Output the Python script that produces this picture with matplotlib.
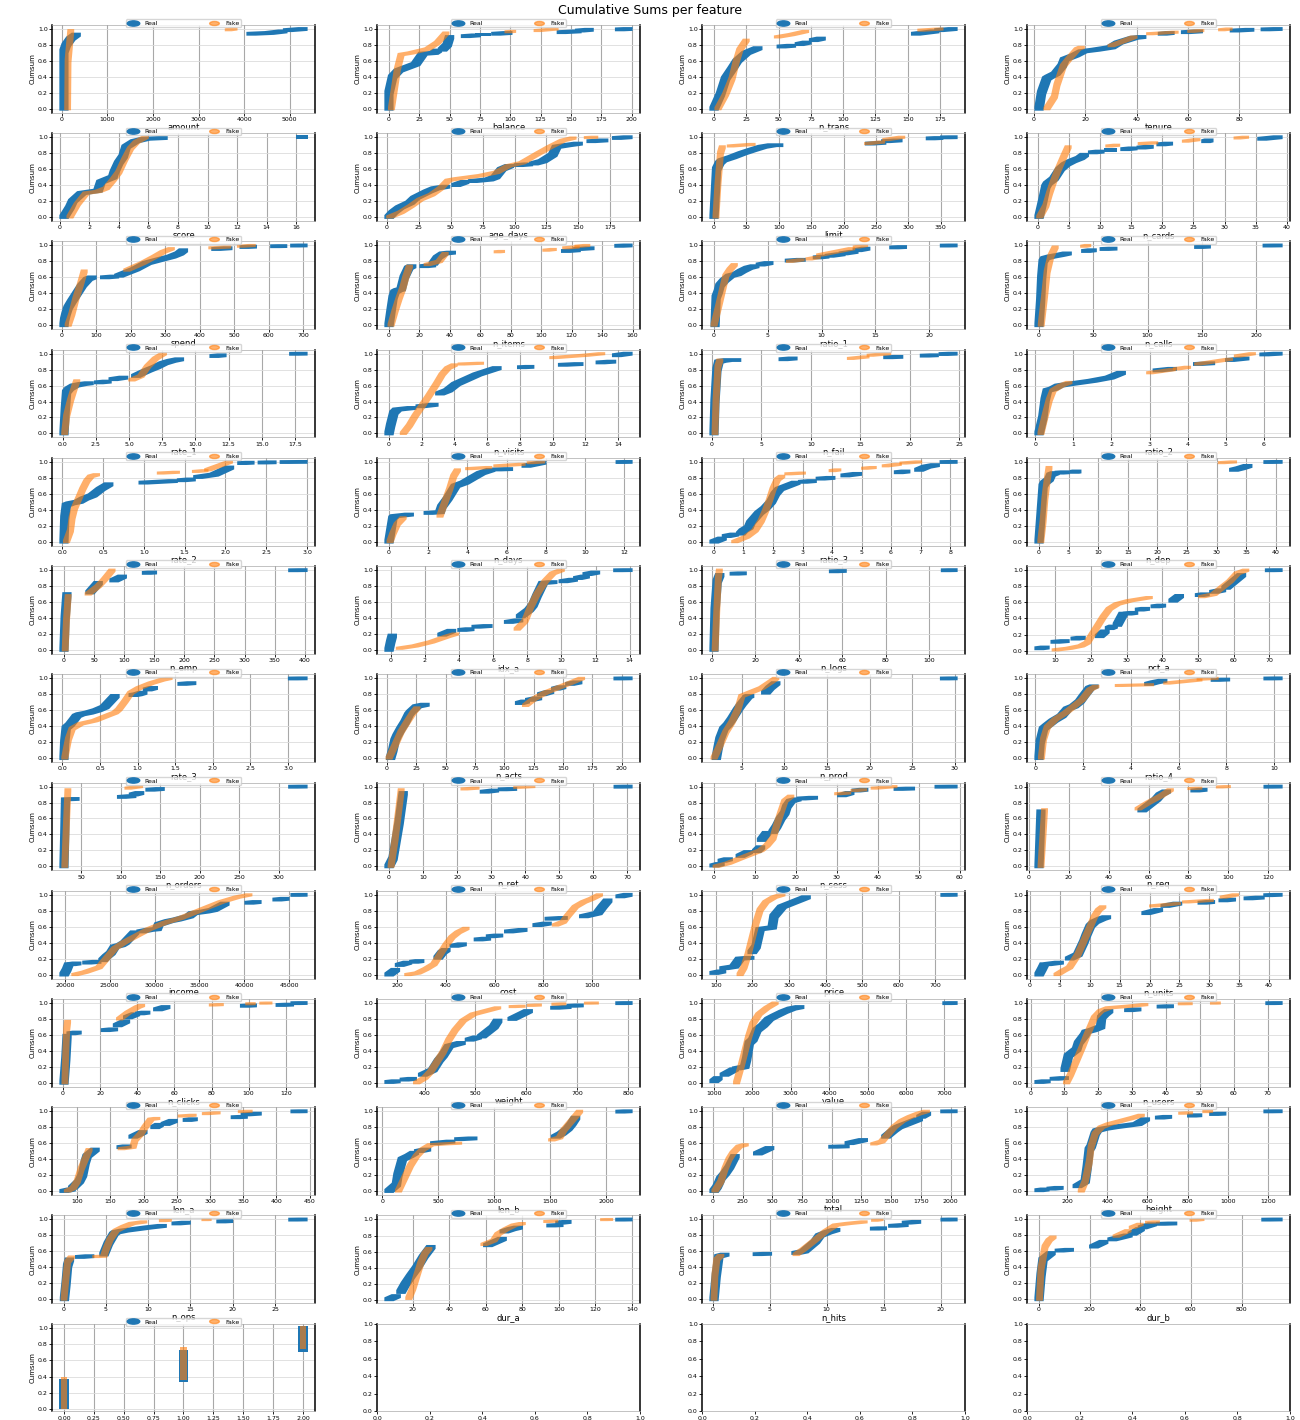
import numpy as np
import matplotlib
matplotlib.use('Agg')
import matplotlib.pyplot as plt
from matplotlib.patches import Polygon
from matplotlib.lines import Line2D
from matplotlib.path import Path
from matplotlib.transforms import Affine2D
from matplotlib.ticker import MaxNLocator

# feature names (one per panel, row by row)
features = ['amount', 'balance', 'n_trans', 'tenure', 'score', 'age_days', 'limit',
            'n_cards', 'spend', 'n_items', 'ratio_1', 'n_calls', 'rate_1', 'n_visits',
            'n_fail', 'ratio_2', 'rate_2', 'n_days', 'ratio_3', 'n_dep', 'n_emp',
            'idx_a', 'n_logs', 'pct_a', 'rate_3', 'n_acts', 'n_prod', 'ratio_4',
            'n_orders', 'n_ret', 'n_sess', 'n_req', 'income', 'cost', 'price',
            'n_units', 'n_clicks', 'weight', 'value', 'n_users', 'len_a', 'len_b',
            'total', 'height', 'n_ops', 'dur_a', 'n_hits', 'dur_b', 'level']

# cumulative curves: runs of (value, cumulative share)
real = [
    [[(50, 0), (50, 0.72), (100, 0.8), (200, 0.88), (320, 0.93)], [(4150, 0.94), (4550, 0.95), (4850, 0.97)], [(4950, 0.985), (5290, 1.0)]],
    [[(0, 0), (0, 0.2), (3, 0.4), (8, 0.48), (22, 0.56), (28, 0.69), (37, 0.7), (40, 0.73)], [(44, 0.74), (48, 0.8), (50, 0.9)], [(63, 0.91), (72, 0.92)], [(75, 0.93), (80, 0.93)], [(88, 0.94), (98, 0.95)], [(142, 0.96), (155, 0.97)], [(157, 0.98), (165, 0.99)], [(190, 0.995), (197, 1.0)]],
    [[(0, 0), (5, 0.18), (9, 0.38), (14, 0.5), (18, 0.6), (25, 0.7), (34, 0.76)], [(52, 0.78), (60, 0.79)], [(66, 0.81), (72, 0.83)], [(77, 0.86), (83, 0.88)], [(156, 0.94), (171, 0.97)], [(174, 0.985), (185, 1.0)]],
    [[(2, 0), (3, 0.2), (5, 0.38), (6, 0.4), (8.5, 0.44), (11, 0.54), (12, 0.62), (16, 0.67), (19, 0.72), (24, 0.74), (30, 0.77), (33, 0.83), (39, 0.89), (42, 0.9)], [(50, 0.94), (53, 0.95)], [(59, 0.96), (64, 0.97)], [(78, 0.98), (84, 0.99)], [(90, 0.995), (95, 1.0)]],
    [[(0.3, 0), (0.7, 0.12), (0.9, 0.2), (1.5, 0.3), (2.6, 0.33), (2.8, 0.44), (3.6, 0.5), (3.7, 0.56), (4.0, 0.68), (4.3, 0.76), (4.5, 0.88), (5.1, 0.95), (5.8, 0.98), (7.0, 0.99)], [(16.3, 1.0), (16.45, 1.0)]],
    [[(1.5, 0), (5, 0.06), (10, 0.12), (18, 0.18), (22, 0.24), (32, 0.32), (38, 0.36), (46, 0.38)], [(54, 0.4), (61, 0.44)], [(67, 0.45), (80, 0.47), (85, 0.5), (90, 0.6), (96, 0.64)], [(103, 0.65), (111, 0.66)], [(115, 0.67), (122, 0.7), (126, 0.74), (130, 0.78), (133, 0.88), (141, 0.9), (150, 0.92)], [(160, 0.95), (170, 0.96)], [(180, 0.99), (189, 1.0)]],
    [[(0, 0), (2, 0.3), (4, 0.6), (9, 0.68), (13, 0.71), (28, 0.75), (44, 0.8), (59, 0.84), (75, 0.88), (90, 0.9), (100, 0.9)], [(240, 0.92), (259, 0.93)], [(265, 0.95), (284, 0.96)], [(334, 0.985), (347, 0.99)], [(356, 0.998), (369, 1.0)]],
    [[(0.2, 0), (0.8, 0.2), (1.3, 0.38), (1.6, 0.42), (2.6, 0.48), (3.6, 0.6), (4.5, 0.66), (5.5, 0.7), (6.8, 0.74), (7.5, 0.78)], [(8.8, 0.81), (10, 0.82)], [(11.4, 0.84), (12, 0.84)], [(14, 0.85), (15.3, 0.86)], [(16.6, 0.87), (17.9, 0.88)], [(19.8, 0.91), (21, 0.92)], [(27, 0.95), (27.5, 0.96)], [(36, 0.98), (38.6, 1.0)]],
    [[(6, 0), (8, 0.07), (12, 0.14), (18, 0.22), (29, 0.3), (41, 0.38), (59, 0.5), (76, 0.58), (88, 0.6)], [(124, 0.6), (153, 0.61)], [(165, 0.62), (188, 0.66), (212, 0.7), (247, 0.78), (282, 0.82), (318, 0.86), (341, 0.9), (353, 0.94)], [(447, 0.955), (482, 0.965)], [(529, 0.98), (553, 0.985)], [(618, 0.99), (641, 0.992)], [(676, 0.998), (700, 1.0)]],
    [[(0, 0), (1.5, 0.2), (2.7, 0.35), (4, 0.42), (6, 0.44), (8, 0.45), (10, 0.6), (13, 0.72), (15, 0.74)], [(23, 0.74), (28, 0.75)], [(29, 0.77), (32, 0.85), (36, 0.9), (41, 0.91)], [(116, 0.93), (123, 0.94)], [(124, 0.955), (132, 0.965)], [(151, 0.995), (157, 1.0)]],
    [[(0.1, 0), (0.2, 0.35), (0.4, 0.42), (0.56, 0.5), (0.95, 0.56), (1.5, 0.62), (2.1, 0.64), (2.6, 0.68), (3.2, 0.72), (3.8, 0.74)], [(4.3, 0.76), (5.1, 0.78)], [(7.0, 0.81), (8.1, 0.82)], [(9.6, 0.85), (10.3, 0.86)], [(10.7, 0.87), (11.8, 0.89)], [(12.0, 0.9), (13.0, 0.92)], [(13.3, 0.94), (14.1, 0.96)], [(16.7, 0.975), (17.5, 0.98)], [(21.4, 0.998), (22.2, 1.0)]],
    [[(0, 0), (1.5, 0.3), (2.5, 0.6), (3.8, 0.8), (5.6, 0.84), (11, 0.86), (19, 0.88), (26, 0.9)], [(43, 0.93), (49, 0.94)], [(60, 0.955), (68, 0.96)], [(147, 0.98), (154, 0.985)], [(210, 0.998), (220, 1.0)]],
    [[(0.1, 0), (0.2, 0.3), (0.3, 0.52), (0.5, 0.56), (0.9, 0.6), (1.5, 0.62), (2, 0.63)], [(2.7, 0.64), (3.35, 0.65)], [(3.8, 0.68), (4.6, 0.7)], [(5.5, 0.72), (6, 0.76), (6.4, 0.79), (7, 0.83), (7.6, 0.88), (8.2, 0.91), (8.8, 0.93)], [(11.4, 0.97), (12, 0.98)], [(17.4, 0.998), (18.1, 1.0)]],
    [[(0, 0), (0.1, 0.1), (0.3, 0.26), (0.5, 0.3), (1.4, 0.32)], [(1.9, 0.34), (2.75, 0.36)], [(3.1, 0.5), (3.6, 0.54), (4.1, 0.62), (5.4, 0.74), (6.6, 0.82)], [(8.1, 0.83), (8.6, 0.835)], [(10.6, 0.86), (11.6, 0.87)], [(12.9, 0.89), (13.6, 0.9)], [(13.9, 0.98), (14.6, 1.0)]],
    [[(0.2, 0), (0.3, 0.4), (0.5, 0.8), (0.7, 0.9), (1.0, 0.91), (1.6, 0.92), (2.5, 0.92)], [(7.2, 0.93), (8.2, 0.94)], [(17.8, 0.955), (18.9, 0.96)], [(21.5, 0.975), (22.5, 0.98)], [(23.4, 0.995), (24.4, 1.0)]],
    [[(0.1, 0), (0.2, 0.2), (0.26, 0.42), (0.32, 0.54), (0.47, 0.56), (0.63, 0.6), (0.9, 0.62), (1.2, 0.64), (1.5, 0.66), (1.95, 0.7), (2.26, 0.76)], [(3.2, 0.79), (3.6, 0.81)], [(4.26, 0.87), (4.6, 0.88)], [(5.1, 0.92), (5.5, 0.94)], [(6.0, 0.99), (6.37, 1.0)]],
    [[(0.02, 0), (0.03, 0.3), (0.05, 0.46), (0.1, 0.48), (0.2, 0.5), (0.27, 0.54), (0.37, 0.58), (0.47, 0.66), (0.57, 0.72)], [(0.99, 0.74), (1.36, 0.76)], [(1.46, 0.77), (1.58, 0.78)], [(1.66, 0.81), (1.86, 0.84), (2.05, 0.93)], [(2.2, 0.985), (2.3, 0.99)], [(2.45, 0.992), (2.57, 0.995)], [(2.72, 0.998), (2.95, 1.0)]],
    [[(0, 0), (0.1, 0.15), (0.2, 0.3), (0.3, 0.32), (1.04, 0.34)], [(2.0, 0.36), (2.6, 0.37), (2.7, 0.44), (3.0, 0.54), (3.2, 0.62), (3.4, 0.7), (3.85, 0.74), (4.27, 0.8), (4.7, 0.86), (5.2, 0.9)], [(5.5, 0.905), (6.1, 0.91)], [(7.0, 0.95), (7.8, 0.99)], [(11.8, 0.998), (12.2, 1.0)]],
    [[(0, 0), (0.28, 0.04)], [(0.42, 0.07), (0.7, 0.09)], [(0.9, 0.1), (1.0, 0.14), (1.18, 0.18), (1.25, 0.24), (1.39, 0.3), (1.53, 0.36), (1.74, 0.42), (1.94, 0.5), (2.08, 0.6), (2.22, 0.66), (2.5, 0.7), (2.78, 0.74)], [(3.0, 0.75), (3.33, 0.76)], [(3.6, 0.79), (3.96, 0.8)], [(4.44, 0.83), (4.86, 0.85)], [(6.25, 0.87), (6.5, 0.88)], [(6.94, 0.9), (7.2, 0.94), (7.5, 0.96)], [(7.8, 0.998), (8.1, 1.0)]],
    [[(0, 0), (0.3, 0.3), (0.7, 0.7), (1.0, 0.74), (1.7, 0.78), (2.05, 0.84), (2.74, 0.86)], [(3.4, 0.865), (4.45, 0.87)], [(6.0, 0.875), (6.4, 0.88)], [(32.9, 0.9), (34, 0.92), (35.3, 0.95)], [(38.7, 0.998), (40.4, 1.0)]],
    [[(0, 0), (2, 0.4), (5, 0.7)], [(43, 0.72), (50, 0.78), (57, 0.84)], [(83, 0.87), (97, 0.92)], [(137, 0.965), (147, 0.97)], [(380, 0.998), (397, 1.0)]],
    [[(-0.1, 0), (0, 0.1), (0.1, 0.18)], [(3.0, 0.19), (3.57, 0.24)], [(4.17, 0.25), (4.64, 0.26)], [(5.0, 0.29), (5.7, 0.3)], [(6.9, 0.35), (7.5, 0.37)], [(7.6, 0.42), (8.1, 0.5), (8.33, 0.56), (8.57, 0.68), (8.93, 0.84), (9.5, 0.85)], [(10.1, 0.86), (10.7, 0.88)], [(10.95, 0.9), (11.4, 0.92)], [(11.5, 0.95), (12, 0.97)], [(13.3, 0.998), (13.9, 1.0)]],
    [[(1, 0), (1.5, 0.5), (2.5, 0.86), (3.7, 0.94)], [(10.3, 0.955), (14, 0.96)], [(56, 0.985), (60, 0.99)], [(107.5, 0.998), (111, 1.0)]],
    [[(5.5, 0.03), (7.2, 0.04)], [(10, 0.11), (12.8, 0.12)], [(15.6, 0.15), (17.3, 0.16)], [(22.4, 0.18), (24, 0.24)], [(25.2, 0.28), (26.3, 0.3)], [(27.4, 0.32), (29.1, 0.46)], [(30.2, 0.46), (32, 0.47)], [(33.6, 0.51), (35.3, 0.52)], [(38, 0.55), (39.8, 0.56)], [(43, 0.62), (44.8, 0.68)], [(50.4, 0.69), (52, 0.7)], [(54.4, 0.73), (56.6, 0.75)], [(57.8, 0.78), (60, 0.86), (62.2, 0.94)], [(70, 0.998), (72.4, 1.0)]],
    [[(0.02, 0), (0.03, 0.2), (0.05, 0.38), (0.1, 0.42), (0.15, 0.48), (0.19, 0.53), (0.24, 0.55), (0.35, 0.57), (0.46, 0.6), (0.56, 0.64), (0.62, 0.7), (0.7, 0.78)], [(0.94, 0.79), (1.0, 0.8), (1.07, 0.82)], [(1.13, 0.86), (1.21, 0.88)], [(1.59, 0.93), (1.72, 0.94)], [(3.06, 0.998), (3.2, 1.0)]],
    [[(3, 0), (5, 0.1), (6.8, 0.22), (8.6, 0.28), (12, 0.37), (15.4, 0.45), (18.8, 0.55), (20.5, 0.58), (25.7, 0.65), (32.5, 0.67)], [(113, 0.69), (118, 0.71)], [(121.6, 0.73), (128.4, 0.75)], [(131.8, 0.8), (138.7, 0.83)], [(143.8, 0.87), (149, 0.89)], [(155.8, 0.93), (162.7, 0.95)], [(197, 0.998), (205.5, 1.0)]],
    [[(2, 0), (2.2, 0.12), (2.43, 0.24), (2.9, 0.37), (3.36, 0.42), (3.83, 0.49), (4.53, 0.61), (5.0, 0.68), (5.7, 0.77), (5.93, 0.78)], [(7.8, 0.82), (8.3, 0.88), (9.0, 0.94)], [(28.8, 0.998), (29.8, 1.0)]],
    [[(0.15, 0), (0.2, 0.2), (0.34, 0.37), (0.5, 0.41), (0.76, 0.47), (1.1, 0.53), (1.36, 0.62), (1.61, 0.65), (1.86, 0.71), (2.03, 0.78), (2.29, 0.88), (2.46, 0.9)], [(4.75, 0.93), (5.0, 0.95), (5.34, 0.97)], [(7.54, 0.98), (7.97, 0.985)], [(9.75, 0.998), (10.17, 1.0)]],
    [[(28, 0), (29, 0.4), (30, 0.84), (42, 0.845)], [(101, 0.87), (114, 0.88)], [(116, 0.9), (124, 0.92)], [(137, 0.96), (150, 0.97)], [(318, 0.998), (331, 1.0)]],
    [[(0, 0), (1.2, 0.1), (2, 0.3), (3, 0.55), (4.2, 0.92)], [(28, 0.935), (31, 0.95)], [(33.3, 0.965), (36.3, 0.97)], [(67.3, 0.998), (70.2, 1.0)]],
    [[(0, 0.01), (1.5, 0.03)], [(2, 0.07), (3.5, 0.09)], [(6.4, 0.13), (8.4, 0.18)], [(10.4, 0.19), (11.4, 0.24)], [(11.6, 0.33), (12.9, 0.42)], [(14.4, 0.43), (15.3, 0.5), (16.3, 0.6), (17.3, 0.67), (17.8, 0.75), (18.8, 0.82), (20.3, 0.84)], [(21.3, 0.85), (24.3, 0.86)], [(31.2, 0.89), (33.2, 0.92)], [(34.7, 0.95), (36.6, 0.96)], [(45, 0.97), (48, 0.975)], [(55, 0.998), (58.4, 1.0)]],
    [[(5, 0), (5.5, 0.35), (6, 0.69)], [(56.7, 0.7), (60.8, 0.78), (63.9, 0.84), (66, 0.9), (69, 0.94)], [(83.3, 0.95), (87.3, 0.96)], [(120, 0.998), (125, 1.0)]],
    [[(19900, 0), (20200, 0.06), (20450, 0.13)], [(20700, 0.13), (21340, 0.14)], [(22450, 0.15), (23570, 0.16)], [(24240, 0.18), (24690, 0.23), (25130, 0.27), (25580, 0.35), (26250, 0.37), (26700, 0.4), (27800, 0.53)], [(28480, 0.54), (29380, 0.56), (30270, 0.57), (30490, 0.63), (31600, 0.67), (32500, 0.69), (33840, 0.73), (34290, 0.77), (35620, 0.79), (36520, 0.81), (37860, 0.89)], [(40540, 0.9), (41430, 0.91)], [(43660, 0.94), (44550, 0.95)], [(45670, 0.998), (46560, 1.0)]],
    [[(165, 0), (192, 0.06)], [(208, 0.12), (242, 0.15)], [(267, 0.16), (292, 0.17)], [(367, 0.21), (385, 0.28), (400, 0.31)], [(433, 0.36), (467, 0.38)], [(533, 0.44), (567, 0.45)], [(583, 0.48), (617, 0.49)], [(658, 0.54), (717, 0.56)], [(775, 0.62), (817, 0.64)], [(825, 0.7), (883, 0.71)], [(967, 0.73), (1025, 0.77), (1045, 0.85), (1067, 0.93)], [(1117, 0.98), (1150, 1.0)]],
    [[(95, 0.02), (116, 0.04)], [(122, 0.08), (150, 0.1), (166, 0.2), (193, 0.21)], [(199, 0.28), (210, 0.35), (221, 0.57), (254, 0.59), (259, 0.73), (281, 0.85), (303, 0.89), (325, 0.93), (347, 0.97)], [(726, 0.998), (748, 1.0)]],
    [[(1.5, 0), (2, 0.07), (2.4, 0.13), (2.8, 0.13), (4.9, 0.15)], [(6.6, 0.2), (8, 0.25), (9, 0.41), (9.4, 0.49), (10.1, 0.61), (10.8, 0.66), (12, 0.7), (12.8, 0.72)], [(19.4, 0.77), (21.5, 0.81)], [(22.6, 0.86), (24.7, 0.89)], [(28.8, 0.9), (30.2, 0.91)], [(32.3, 0.93), (33.7, 0.94)], [(36.5, 0.955), (38.5, 0.965)], [(39.8, 0.995), (41.5, 1.0)]],
    [[(0.5, 0), (1.5, 0.3), (2.2, 0.59)], [(4.3, 0.62), (7.6, 0.63)], [(22.8, 0.66), (27.2, 0.67)], [(29.3, 0.72), (33.7, 0.77)], [(34.8, 0.82), (39.1, 0.86)], [(41.3, 0.87), (44.6, 0.88)], [(51, 0.92), (55.4, 0.95)], [(97.8, 0.965), (102, 0.97)], [(117, 0.975), (122, 0.98)], [(125, 0.998), (129.3, 1.0)]],
    [[(330, 0.01), (344, 0.02)], [(360, 0.04), (376, 0.05)], [(396, 0.1), (416, 0.16), (428, 0.28), (436, 0.34), (448, 0.46), (460, 0.48), (472, 0.5)], [(488, 0.54), (504, 0.57)], [(512, 0.58), (536, 0.7), (544, 0.78)], [(572, 0.8), (604, 0.9)], [(656, 0.94), (680, 0.95)], [(688, 0.965), (704, 0.97)], [(784, 0.998), (800, 1.0)]],
    [[(1000, 0.02), (1106, 0.06)], [(1266, 0.1), (1532, 0.17)], [(1585, 0.18), (1800, 0.2), (1851, 0.3), (1920, 0.5), (2010, 0.54), (2117, 0.66), (2277, 0.72), (2436, 0.8), (2596, 0.84), (2809, 0.89), (3021, 0.93), (3234, 0.95)], [(7064, 0.998), (7223, 1.0)]],
    [[(2.5, 0.01), (4.6, 0.02)], [(7, 0.05), (10, 0.06)], [(10.2, 0.16), (11.2, 0.34), (13.6, 0.42), (14.2, 0.5), (16, 0.6), (16.5, 0.64), (18.3, 0.66), (20.7, 0.7), (21, 0.82), (21.9, 0.86), (23.1, 0.9)], [(29, 0.91), (31.4, 0.92)], [(38.6, 0.955), (41, 0.96)], [(70.7, 0.998), (73.1, 1.0)]],
    [[(80, 0), (91, 0.02)], [(93, 0.04), (103, 0.12), (108, 0.2), (112, 0.36), (115, 0.44), (127, 0.52)], [(166, 0.55), (175, 0.56)], [(184, 0.68), (199, 0.74)], [(217, 0.8), (223.5, 0.83)], [(232.5, 0.84), (244.6, 0.88)], [(265.7, 0.89), (274.7, 0.9)], [(338, 0.925), (350, 0.93)], [(353, 0.96), (371, 0.97)], [(428, 0.998), (440, 1.0)]],
    [[(60, 0), (126, 0.08), (140, 0.2), (160, 0.3), (180, 0.4), (240, 0.44), (288, 0.48)], [(324, 0.5), (396, 0.52)], [(468, 0.6), (612, 0.62)], [(683, 0.65), (809, 0.66)], [(1547, 0.68), (1600, 0.72), (1655, 0.78), (1690, 0.84), (1727, 0.92)], [(2122, 0.995), (2194, 1.0)]],
    [[(10, 0), (35, 0.05), (51, 0.1), (68, 0.16), (103, 0.22), (140, 0.3), (188, 0.44)], [(377, 0.47), (479, 0.54)], [(1010, 0.555), (1113, 0.56)], [(1147, 0.6), (1267, 0.64)], [(1455, 0.68), (1520, 0.76), (1558, 0.8), (1627, 0.84), (1730, 0.9)], [(1750, 0.93), (1798, 0.97)], [(1952, 0.998), (2021, 1.0)]],
    [[(60, 0.01), (90, 0.02)], [(120, 0.03), (160, 0.04)], [(250, 0.06), (290, 0.12), (300, 0.3), (310, 0.52), (320, 0.56), (340, 0.72), (350, 0.76), (380, 0.78), (430, 0.8), (490, 0.82), (550, 0.84), (590, 0.9)], [(660, 0.92), (700, 0.93)], [(820, 0.945), (850, 0.95)], [(930, 0.965), (970, 0.97)], [(1200, 0.998), (1250, 1.0)]],
    [[(0.1, 0), (0.3, 0.2), (0.48, 0.42), (0.71, 0.5)], [(1.9, 0.53), (3.1, 0.54)], [(4.76, 0.56), (5.3, 0.7), (5.95, 0.82), (6.2, 0.84), (7.14, 0.86), (8.57, 0.88), (10, 0.9), (11.67, 0.92)], [(13.3, 0.95), (14.5, 0.96)], [(18.6, 0.975), (19.5, 0.98)], [(27.1, 0.998), (28.3, 1.0)]],
    [[(7, 0.01), (11, 0.05)], [(13.5, 0.1), (16, 0.2), (19, 0.3), (22.2, 0.4), (26, 0.54), (30, 0.66)], [(61, 0.68), (65, 0.72), (69, 0.76)], [(70, 0.85), (74, 0.88), (77.8, 0.9)], [(95.6, 0.925), (100, 0.93)], [(100.5, 0.96), (104.4, 0.97)], [(133.3, 0.998), (137.8, 1.0)]],
    [[(0.1, 0), (0.3, 0.3), (0.53, 0.54), (1.06, 0.56)], [(3.9, 0.565), (4.8, 0.57)], [(7.3, 0.58), (8.0, 0.6), (8.5, 0.66), (9.0, 0.72), (9.4, 0.8), (10.1, 0.84), (10.8, 0.87)], [(14.2, 0.885), (14.9, 0.89)], [(15.8, 0.92), (16.8, 0.93)], [(17.0, 0.96), (17.9, 0.97)], [(20.4, 0.998), (21.1, 1.0)]],
    [[(0, 0), (8, 0.3), (16, 0.5), (24, 0.52), (48, 0.58)], [(80, 0.61), (120, 0.62)], [(216, 0.66), (256, 0.72)], [(288, 0.75), (352, 0.8)], [(368, 0.82), (400, 0.88)], [(408, 0.9), (448, 0.94)], [(480, 0.945), (528, 0.95)], [(896, 0.998), (944, 1.0)]],
    [[(0, 0.02), (0, 0.35)], [(1, 0.36), (1, 0.70)], [(2, 0.72), (2, 1.0)]],
]

fake = [
    [[(130, 0), (140, 0.6), (200, 0.98)], [(3650, 0.99), (3780, 1.0)]],
    [[(2, 0), (4, 0.2), (7, 0.5), (10, 0.68), (18, 0.7), (32, 0.75), (40, 0.83), (47, 0.95)], [(98, 0.965), (102, 0.97)], [(122, 0.98), (137, 1.0)]],
    [[(3, 0), (9, 0.18), (14, 0.38), (17, 0.58), (20, 0.74), (25, 0.86)], [(49, 0.9), (60, 0.93), (71, 0.97)], [(160, 0.985), (175, 1.0)]],
    [[(5, 0), (8, 0.15), (9, 0.3), (11.5, 0.54), (14, 0.64), (17, 0.75), (18.5, 0.77)], [(30, 0.79), (35, 0.85), (39, 0.9)], [(45, 0.94), (55, 0.96)], [(61, 0.97), (65, 0.98)], [(73, 0.99), (76, 1.0)]],
    [[(0.7, 0), (1.2, 0.16), (1.8, 0.3), (2.6, 0.32), (3.15, 0.36), (3.6, 0.46), (4.0, 0.56), (4.4, 0.72), (4.8, 0.86), (5.2, 0.94), (5.8, 1.0)]],
    [[(2, 0), (11, 0.06), (19, 0.14), (26, 0.22), (35, 0.28), (42, 0.36), (48, 0.46), (55, 0.48), (74, 0.52), (86, 0.56), (95, 0.64), (106, 0.68), (119, 0.8), (128, 0.88), (138, 0.96), (146, 0.99)], [(157, 0.995), (163, 1.0)]],
    [[(3, 0), (6, 0.4), (10, 0.8), (13, 0.88)], [(25, 0.89), (59, 0.91)], [(237, 0.92), (259, 0.94)], [(265, 0.97), (290, 1.0)]],
    [[(0.3, 0), (1.3, 0.14), (1.9, 0.3), (2.6, 0.46), (3.2, 0.58), (4.2, 0.76), (4.9, 0.88)], [(11.4, 0.89), (12.7, 0.9)], [(16.6, 0.92), (18.8, 0.93)], [(23.7, 0.95), (25.6, 0.97)], [(32, 0.99), (33.4, 1.0)]],
    [[(18, 0), (29, 0.14), (41, 0.34), (53, 0.5), (65, 0.68)], [(188, 0.69), (235, 0.78), (270, 0.86), (294, 0.92), (318, 0.96)], [(435, 0.97), (482, 0.98)], [(518, 0.99), (553, 1.0)]],
    [[(1.3, 0), (4, 0.18), (6.7, 0.34), (9, 0.46), (11, 0.6), (13.5, 0.74)], [(25, 0.76), (33, 0.8), (37, 0.9)], [(71, 0.92), (74, 0.925)], [(103, 0.94), (108, 0.95)], [(116, 0.97), (123, 0.98)], [(124, 0.99), (130, 1.0)]],
    [[(0, 0), (0.4, 0.22), (0.75, 0.42), (1.1, 0.62), (1.5, 0.7), (1.9, 0.76)], [(7, 0.8), (8.1, 0.82)], [(8.8, 0.83), (9.6, 0.85)], [(9.8, 0.88), (12.8, 0.96)], [(13.2, 0.98), (14, 1.0)]],
    [[(2, 0), (5, 0.35), (7.5, 0.67), (11, 0.87), (15, 0.98)], [(41, 0.99), (45, 1.0)]],
    [[(0.15, 0), (0.3, 0.22), (0.6, 0.42), (0.9, 0.58), (1.07, 0.66)], [(5.2, 0.67), (5.9, 0.72), (6.4, 0.84), (7.0, 0.94), (7.6, 1.0)]],
    [[(0.87, 0), (1.25, 0.1), (1.6, 0.22), (2, 0.34), (2.4, 0.46), (2.9, 0.62), (3.25, 0.74), (3.6, 0.82), (4, 0.86)], [(4.4, 0.87), (5.6, 0.88)], [(10, 0.95), (12, 0.98), (13, 1.0)]],
    [[(0.3, 0), (0.4, 0.4), (0.6, 0.84), (0.8, 0.92)], [(14, 0.94), (15.6, 0.96)], [(16, 0.98), (17.8, 1.0)]],
    [[(0.15, 0), (0.26, 0.22), (0.37, 0.42), (0.47, 0.54), (0.68, 0.6), (0.89, 0.64)], [(3.0, 0.76), (3.6, 0.8)], [(3.7, 0.81), (4.0, 0.83)], [(4.26, 0.87), (5.1, 0.93)], [(5.3, 0.97), (5.7, 1.0)]],
    [[(0.05, 0), (0.1, 0.14), (0.12, 0.3), (0.15, 0.42), (0.2, 0.54), (0.25, 0.66), (0.3, 0.76), (0.35, 0.82), (0.42, 0.84)], [(1.2, 0.86), (1.4, 0.87)], [(1.63, 0.88), (1.75, 0.89)], [(1.78, 0.9), (2.05, 1.0)]],
    [[(0.05, 0), (0.2, 0.1), (0.42, 0.22), (0.73, 0.3)], [(2.6, 0.32), (2.8, 0.46), (3.1, 0.66), (3.3, 0.82), (3.5, 0.9)], [(4.06, 0.915), (5.1, 0.93)], [(5.5, 0.95), (6.8, 0.97)], [(7.2, 0.99), (7.8, 1.0)]],
    [[(0.7, 0), (1.1, 0.06), (1.39, 0.14), (1.6, 0.26), (1.74, 0.38), (1.88, 0.52), (2.0, 0.66), (2.15, 0.78), (2.3, 0.82)], [(2.5, 0.85), (3.0, 0.86)], [(4.0, 0.89), (4.2, 0.9)], [(5.1, 0.92), (5.4, 0.93)], [(5.8, 0.95), (6.25, 0.97)], [(6.4, 0.985), (6.94, 1.0)]],
    [[(0.3, 0), (0.7, 0.26), (1.0, 0.54), (1.4, 0.78), (1.7, 0.93)], [(30.8, 0.99), (32.9, 1.0)]],
    [[(2, 0), (4, 0.35), (7, 0.68)], [(40, 0.7), (57, 0.8), (67, 0.88), (80, 1.0)]],
    [[(0.5, 0.02), (1.43, 0.05), (2.38, 0.1), (3.33, 0.17), (3.8, 0.2)], [(7.4, 0.26), (7.86, 0.36), (8.2, 0.54), (8.57, 0.7), (9.05, 0.86), (9.5, 0.96), (10, 1.0)]],
    [[(1.5, 0), (2.3, 0.5), (3.0, 0.9), (3.5, 1.0)]],
    [[(10, 0.01), (13.9, 0.03), (17.3, 0.06), (19, 0.1), (20.1, 0.18), (21.8, 0.3), (23.5, 0.42), (25.2, 0.52), (27.4, 0.58), (30.8, 0.62), (36.4, 0.66)], [(51, 0.67), (54.4, 0.7), (56.6, 0.78), (58.9, 0.86), (61, 0.96), (63.4, 1.0)]],
    [[(0.03, 0), (0.08, 0.24), (0.13, 0.37), (0.24, 0.43), (0.43, 0.47), (0.59, 0.53), (0.7, 0.57), (0.75, 0.61), (0.83, 0.71), (0.91, 0.82), (1.02, 0.88), (1.18, 0.94), (1.32, 0.98), (1.42, 1.0)]],
    [[(1.7, 0), (6.8, 0.16), (12, 0.33), (17, 0.45), (22.3, 0.57), (25.7, 0.63)], [(118, 0.66), (125, 0.74), (135, 0.82), (145.5, 0.88), (155.8, 0.94), (166, 1.0)]],
    [[(1.73, 0), (2.43, 0.16), (3.13, 0.33), (3.83, 0.45), (4.53, 0.61), (5.0, 0.78), (5.93, 0.82), (7.34, 0.88), (8.74, 0.98), (9.0, 1.0)]],
    [[(0.25, 0), (0.34, 0.24), (0.5, 0.39), (0.85, 0.49), (1.27, 0.57), (1.61, 0.65), (1.95, 0.73), (2.29, 0.86), (2.54, 0.9)], [(3.47, 0.91), (4.83, 0.92)], [(5.5, 0.94), (6.86, 0.98)], [(6.9, 0.99), (7.54, 1.0)]],
    [[(29, 0), (31, 0.5), (33, 0.96)], [(109, 0.98), (124, 1.0)]],
    [[(0.6, 0), (1.8, 0.34), (3, 0.75), (3.6, 0.96)], [(22, 0.97), (25.6, 0.98)], [(37.5, 0.99), (42, 1.0)]],
    [[(0.5, 0), (3.5, 0.04), (6.4, 0.1), (9.4, 0.16), (11.4, 0.2), (12.9, 0.26), (14.4, 0.35), (15.3, 0.51), (16.3, 0.67), (17.3, 0.82), (18.8, 0.88)], [(30.2, 0.91), (32.7, 0.92)], [(34.2, 0.95), (36.6, 0.96)], [(39.1, 0.98), (44, 1.0)]],
    [[(6, 0), (6.9, 0.35), (7.8, 0.71)], [(54.7, 0.72), (60, 0.8), (66, 0.88), (71, 0.96)], [(81.2, 0.975), (85.3, 0.98)], [(95.5, 0.995), (99.6, 1.0)]],
    [[(21100, 0), (22230, 0.03), (23800, 0.09), (24690, 0.21), (25580, 0.33), (26700, 0.41), (28040, 0.49), (29380, 0.57), (31160, 0.65), (32950, 0.71), (34290, 0.77), (35620, 0.83), (37410, 0.91), (39200, 0.97), (40540, 1.0)]],
    [[(242, 0), (283, 0.02), (317, 0.07), (350, 0.13), (367, 0.21), (383, 0.29), (400, 0.37), (425, 0.47), (450, 0.53), (483, 0.58)], [(850, 0.62), (883, 0.66), (900, 0.73), (933, 0.85), (967, 0.91), (1000, 0.95), (1033, 1.0)]],
    [[(166, 0), (177, 0.09), (188, 0.25), (199, 0.45), (210, 0.65), (221, 0.81), (237, 0.91), (259, 0.97), (281, 1.0)]],
    [[(4.5, 0), (5.6, 0.05), (6.6, 0.09), (7.3, 0.17), (8, 0.25), (8.7, 0.37), (9.4, 0.49), (10.1, 0.61), (10.8, 0.73), (11.5, 0.81), (12.2, 0.85)], [(20.5, 0.86), (24.7, 0.89)], [(26, 0.91), (30.2, 0.93)], [(32.3, 0.97), (34.4, 1.0)]],
    [[(1, 0), (1.5, 0.4), (2, 0.67), (2.5, 0.77)], [(30.4, 0.8), (35, 0.88), (40.2, 0.95), (42.4, 0.97)], [(80.4, 0.975), (84.8, 0.98)], [(100, 0.99), (102, 0.992)], [(107.6, 0.998), (111, 1.0)]],
    [[(384, 0), (400, 0.06), (412, 0.14), (424, 0.26), (436, 0.38), (448, 0.54), (460, 0.66), (476, 0.78), (496, 0.86), (520, 0.9), (544, 0.94)], [(572, 0.955), (592, 0.96)], [(608, 0.97), (624, 0.975)], [(656, 0.985), (672, 0.99)], [(720, 0.998), (736, 1.0)]],
    [[(1585, 0), (1691, 0.18), (1798, 0.38), (1904, 0.58), (2010, 0.74), (2170, 0.86), (2383, 0.94), (2596, 1.0)]],
    [[(10.6, 0), (11.8, 0.1), (13, 0.22), (14.2, 0.34), (15.4, 0.46), (16.5, 0.58), (17.7, 0.7), (18.9, 0.82), (20.7, 0.9), (23.1, 0.94), (29, 0.96), (33.8, 0.98)], [(44.5, 0.99), (46.9, 0.992)], [(54, 0.998), (55.2, 1.0)]],
    [[(85, 0), (94, 0.04), (100, 0.12), (106, 0.28), (112, 0.4), (118, 0.52)], [(166, 0.53), (184, 0.55), (187, 0.64), (196, 0.72), (202, 0.8), (211, 0.9), (220, 0.91)], [(256.6, 0.94), (274.7, 0.95)], [(292.8, 0.97), (310.8, 0.98)], [(347, 0.995), (359, 1.0)]],
    [[(144, 0), (198, 0.16), (252, 0.32), (306, 0.44), (360, 0.52), (432, 0.58), (540, 0.59), (683, 0.6)], [(1511, 0.64), (1583, 0.67), (1619, 0.76), (1691, 0.88), (1763, 1.0)]],
    [[(17, 0), (68, 0.12), (103, 0.28), (137, 0.4), (171, 0.48), (223, 0.56), (274, 0.58)], [(1353, 0.59), (1421, 0.62), (1455, 0.68), (1524, 0.8), (1592, 0.88), (1661, 0.93), (1730, 0.97), (1798, 1.0)]],
    [[(270, 0), (290, 0.12), (310, 0.36), (320, 0.56), (340, 0.72), (370, 0.8), (410, 0.84), (470, 0.88), (530, 0.92), (570, 0.95)], [(770, 0.975), (810, 0.98)], [(890, 0.995), (910, 1.0)]],
    [[(0.05, 0), (0.24, 0.22), (0.48, 0.47), (0.95, 0.53)], [(3.8, 0.535), (4.76, 0.54), (5.0, 0.62), (5.5, 0.75), (6.2, 0.86), (7.14, 0.91), (8.1, 0.95), (9.5, 0.97)], [(11.67, 0.985), (12.4, 0.99)], [(16.7, 0.998), (17.1, 1.0)]],
    [[(17.8, 0.02), (20, 0.14), (22.2, 0.3), (24.4, 0.46), (26.7, 0.58), (28.9, 0.64)], [(58.9, 0.69), (64.4, 0.74), (66.7, 0.82), (71.1, 0.88), (75.6, 0.93), (80, 0.95)], [(93.3, 0.975), (97.8, 0.98)], [(124.4, 0.998), (127.8, 1.0)]],
    [[(0.1, 0), (0.18, 0.3), (0.35, 0.5), (0.71, 0.55)], [(7.3, 0.56), (8.0, 0.63), (8.7, 0.71), (9.4, 0.79), (9.9, 0.85), (10.8, 0.93), (11.9, 0.95), (13.3, 0.97)], [(14.2, 0.99), (14.7, 1.0)]],
    [[(2, 0), (8, 0.38), (24, 0.66), (40, 0.74), (56, 0.78)], [(304, 0.79), (352, 0.86)], [(368, 0.9), (400, 0.94)], [(432, 0.965), (464, 0.97)], [(608, 0.99), (640, 1.0)]],
    [[(0, 0.02), (0, 0.37)], [(1, 0.38), (1, 0.74)], [(2, 0.76), (2, 1.0)]],
]

REAL_C = '#1f77b4'
FAKE_C = '#ff7f0e'


def draw_runs(ax, runs, color, alpha, hw, hh, z):
    # each run is a monotone chain of points, drawn as the trail of a
    # flat (wide, short) marker so vertical stacks look thick and tails thin
    x0, x1 = ax.get_xlim()
    y0, y1 = ax.get_ylim()
    bb = ax.get_window_extent()
    dx = hw * (x1 - x0) / bb.width
    dy = hh * (y1 - y0) / bb.height
    for run in runs:
        p = np.array(run, dtype=float)
        upper = p + [-dx, dy]
        lower = (p + [dx, -dy])[::-1]
        poly = np.vstack([p[:1] + [-dx, -dy], upper, p[-1:] + [dx, dy], lower])
        ax.add_patch(Polygon(poly, closed=True, fc=color, ec='none', alpha=alpha, zorder=z))


flat_dot = Path.unit_circle().transformed(Affine2D().scale(1.0, 0.42))
handles = [Line2D([], [], ls='none', marker=flat_dot, ms=9, color=REAL_C),
           Line2D([], [], ls='none', marker=flat_dot, ms=7, color=FAKE_C, alpha=0.6)]

fig, axes = plt.subplots(13, 4, figsize=(13, 14.2), dpi=100)
fig.subplots_adjust(left=0.04, right=0.9923, top=0.9824, bottom=0.006,
                    wspace=0.236, hspace=0.233)
fig.suptitle('Cumulative Sums per feature', fontsize=9, y=0.997)

for i, ax in enumerate(axes.flatten()):
    ax.tick_params(labelsize=4.5, length=2, width=0.6, pad=1)
    for s in ('left', 'right'):
        ax.spines[s].set_linewidth(1.1)
    for s in ('top', 'bottom'):
        ax.spines[s].set_color('#aaaaaa')
        ax.spines[s].set_linewidth(0.5)
    if i >= len(features):
        continue

    allpts = np.array([pt for runs in (real[i], fake[i]) for run in runs for pt in run])
    lo, hi = allpts[:, 0].min(), allpts[:, 0].max()
    ylo = allpts[:, 1].min()
    ax.set_xlim(lo - 0.05 * (hi - lo), hi + 0.05 * (hi - lo))
    ax.set_ylim(ylo - 0.05 * (1 - ylo), 1 + 0.05 * (1 - ylo))
    ax.xaxis.set_major_locator(MaxNLocator(nbins=9, steps=[1, 2, 2.5, 5, 10]))
    ax.yaxis.set_major_locator(MaxNLocator(nbins=6, steps=[1, 2, 2.5, 5, 10]))

    ax.grid(axis='x', color='#a8a8a8', lw=0.8)
    ax.grid(axis='y', color='#dcdcdc', lw=0.6)

    draw_runs(ax, real[i], REAL_C, 1.0, 4.6, 1.9, 2)
    draw_runs(ax, fake[i], FAKE_C, 0.62, 3.4, 1.5, 3)

    ax.set_xlabel(features[i], fontsize=6, labelpad=0.5)
    ax.set_ylabel('Cumsum', fontsize=5, labelpad=2)
    ax.legend(handles, ['Real', 'Fake'], loc='upper center', bbox_to_anchor=(0.5, 1.1),
              ncol=3, fontsize=4.5, handlelength=2.0, handletextpad=0.8,
              columnspacing=8, borderpad=0.2, framealpha=0.8)

fig.savefig('out.png', dpi=100)
